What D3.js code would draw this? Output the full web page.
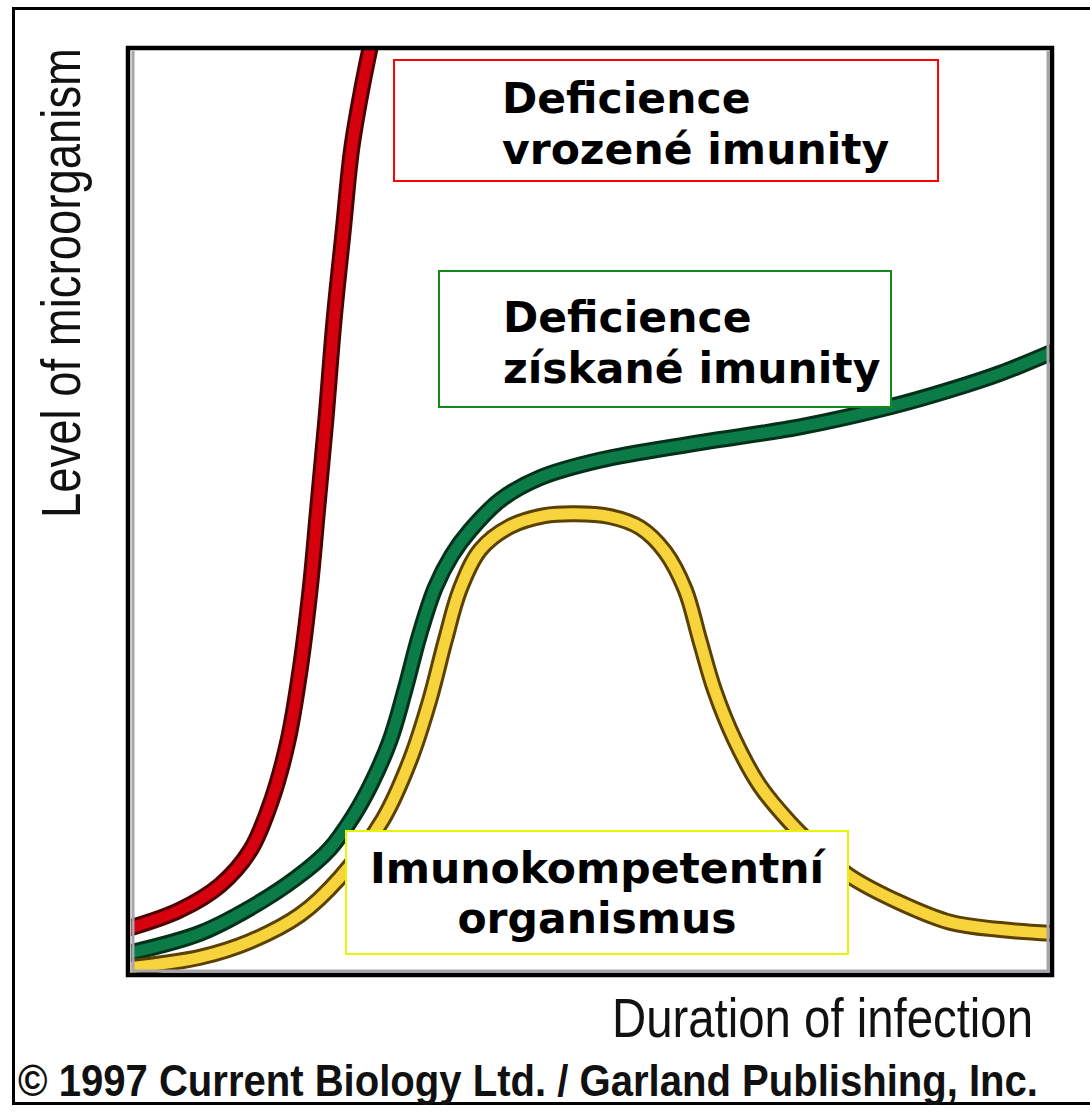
<!DOCTYPE html>
<html>
<head>
<meta charset="utf-8">
<script src="https://cdn.jsdelivr.net/npm/d3@7"></script>
<style>
  body { margin: 0; background: #fff; }
</style>
</head>
<body>
<svg id="chart"></svg>
<script>
// curves: [time, level], both 0..100
var innateDeficiency = [[0, 4.9], [5.3, 6.8], [9.7, 9.5], [13.0, 13.3], [15.3, 18.7], [17.1, 25.2],
    [18.4, 32.8], [19.5, 41.6], [20.3, 50.1], [21.2, 59.8], [22.1, 70.7], [23.1, 80.4], [24.0, 89.1],
    [25.1, 95.6], [26.2, 101]];
var acquiredDeficiency = [[0, 2.2], [7.5, 4.3], [12.9, 7.0], [18.0, 10.3], [21.6, 13.4], [24.2, 17.0],
    [26.2, 20.6], [28.2, 25.2], [29.8, 30.6], [31.4, 36.6], [33.1, 41.7], [34.9, 45.2], [36.9, 47.9],
    [40.2, 51.2], [44.5, 53.6], [51.0, 55.5], [61.9, 57.4], [72.8, 59.1], [82.7, 61.3], [89.1, 63.1],
    [94.6, 64.9], [100, 67.1]];
var immunocompetent = [[0, 0.6], [7.5, 1.7], [12.9, 3.4], [18.4, 6.3], [22.7, 10.3], [27.4, 16.6],
    [30.4, 23.1], [32.5, 29.5], [34.2, 36.0], [35.8, 41.5], [38.0, 45.8], [41.2, 48.3], [45.0, 49.5],
    [48.3, 49.7], [52.1, 49.4], [55.4, 48.2], [58.1, 45.6], [60.3, 41.5], [61.9, 36.0], [63.5, 30.6],
    [65.7, 25.2], [68.4, 20.3], [71.7, 16.3], [75.0, 13.1], [78.2, 10.5], [83.7, 7.6], [89.1, 5.5],
    [94.6, 4.7], [100, 4.3]];

var seriesNames = ["innate", "acquired", "competent"];
var labelLines = [["Deficience", "vrozené imunity"], ["Deficience", "získané imunity"], ["Imunokompetentní", "organismus"]];
var xTitle = "Duration of infection";
var yTitle = "Level of microorganism";
var credit = "© 1997 Current Biology Ltd. / Garland Publishing, Inc.";

var width = 1090, height = 1114;
var svg = d3.select("#chart").attr("width", width).attr("height", height);

// window.top is read-only, so the plot edges get their own names
var plotLeft = 131, plotRight = 1050, plotTop = 49, plotBottom = 973;
var x = d3.scaleLinear().domain([0, 100]).range([plotLeft, plotRight]);
var y = d3.scaleLinear().domain([0, 100]).range([plotBottom, plotTop]);

// outer frame (no right edge in the original)
svg.append("path")
    .attr("d", "M1090,8.5 L13.5,8.5 L13.5,1103.5 L1090,1103.5")
    .attr("fill", "none").attr("stroke", "#000").attr("stroke-width", 3);

svg.append("clipPath").attr("id", "plotClip")
  .append("rect").attr("x", plotLeft).attr("y", plotTop)
    .attr("width", plotRight - plotLeft).attr("height", plotBottom - plotTop);

var line = d3.line()
    .x(d => x(d[0]))
    .y(d => y(d[1]))
    .curve(d3.curveCatmullRom.alpha(0.5));

var styles = {
    innate: { edge: "#4d0000", fill: "#d6000e" },
    acquired: { edge: "#03301a", fill: "#0b7c47" },
    competent: { edge: "#5a4100", fill: "#f8d43c" }
};
var seriesData = { innate: innateDeficiency, acquired: acquiredDeficiency, competent: immunocompetent };

var curves = svg.append("g").attr("clip-path", "url(#plotClip)");
seriesNames.forEach(name => {
    curves.append("path").attr("d", line(seriesData[name]))
        .attr("fill", "none").attr("stroke", styles[name].edge).attr("stroke-width", 17)
        .attr("stroke-linecap", "round");
    curves.append("path").attr("d", line(seriesData[name]))
        .attr("fill", "none").attr("stroke", styles[name].fill).attr("stroke-width", 11)
        .attr("stroke-linecap", "round");
});

// plot frame with the grey inner shadow
svg.append("path")
    .attr("d", `M${plotLeft + 2},${plotTop + 2} L${plotLeft + 2},${plotBottom - 2} L${plotRight - 2},${plotBottom - 2} L${plotRight - 2},${plotTop + 2}`)
    .attr("fill", "none").attr("stroke", "#a8a4ac").attr("stroke-width", 3);
svg.append("rect")
    .attr("x", plotLeft - 3).attr("y", plotTop - 1)
    .attr("width", plotRight - plotLeft + 5).attr("height", plotBottom - plotTop + 3)
    .attr("fill", "none").attr("stroke", "#000").attr("stroke-width", 4.5);

// label boxes
var boxes = [
    { x: 394, y: 60, w: 544, h: 121, stroke: "#ff0000", tx: 502, ty: [113, 164], anchor: "start" },
    { x: 439, y: 271, w: 452, h: 136, stroke: "#138a1c", tx: 503, ty: [332, 383], anchor: "start" },
    { x: 346, y: 831, w: 502, h: 123, stroke: "#e6f500", tx: 597, ty: [883, 933], anchor: "middle" }
];
boxes.forEach((b, i) => {
    svg.append("rect").attr("x", b.x).attr("y", b.y).attr("width", b.w).attr("height", b.h)
        .attr("fill", "#fff").attr("stroke", b.stroke).attr("stroke-width", 2);
    labelLines[i].forEach((t, j) => {
        svg.append("text").attr("x", b.tx).attr("y", b.ty[j])
            .attr("text-anchor", b.anchor)
            .attr("font-family", "DejaVu Sans").attr("font-weight", "bold").attr("font-size", 42.5)
            .attr("fill", "#000").text(t);
    });
});

// axis titles
svg.append("text")
    .attr("transform", "translate(80,518) rotate(-90)")
    .attr("font-family", "Liberation Sans").attr("font-size", 56)
    .attr("textLength", 470).attr("lengthAdjust", "spacingAndGlyphs")
    .attr("fill", "#111").text(yTitle);
svg.append("text")
    .attr("x", 612).attr("y", 1037)
    .attr("font-family", "Liberation Sans").attr("font-size", 56)
    .attr("textLength", 421).attr("lengthAdjust", "spacingAndGlyphs")
    .attr("fill", "#111").text(xTitle);

svg.append("text")
    .attr("x", 18).attr("y", 1096)
    .attr("font-family", "Liberation Sans").attr("font-weight", "bold").attr("font-size", 45)
    .attr("textLength", 1020).attr("lengthAdjust", "spacingAndGlyphs")
    .attr("fill", "#111").text(credit);
</script>
</body>
</html>
